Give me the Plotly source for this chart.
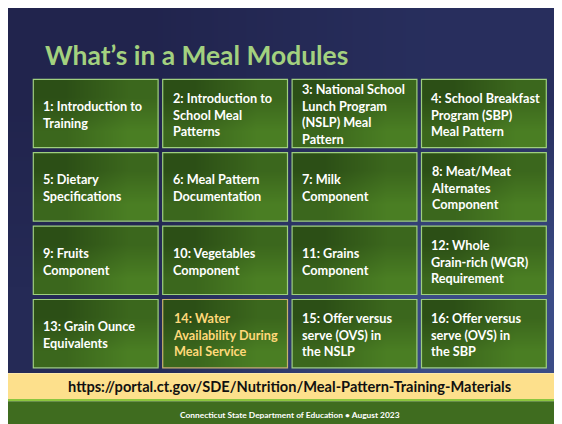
import plotly.graph_objects as go

# ---- content ----
title_text = "What’s in a Meal Modules"
module_labels = [
    "1: Introduction to<br>Training",
    "2: Introduction to<br>School Meal<br>Patterns",
    "3: National School<br>Lunch Program<br>(NSLP) Meal<br>Pattern",
    "4: School Breakfast<br>Program (SBP)<br>Meal Pattern",
    "5: Dietary<br>Specifications",
    "6: Meal Pattern<br>Documentation",
    "7: Milk<br>Component",
    "8: Meat/Meat<br>Alternates<br>Component",
    "9: Fruits<br>Component",
    "10: Vegetables<br>Component",
    "11: Grains<br>Component",
    "12: Whole<br>Grain-rich (WGR)<br>Requirement",
    "13: Grain Ounce<br>Equivalents",
    "14: Water<br>Availability During<br>Meal Service",
    "15: Offer versus<br>serve (OVS) in<br>the NSLP",
    "16: Offer versus<br>serve (OVS) in<br>the SBP",
]
highlighted = [False] * 13 + [True] + [False] * 2
url_text = "https://portal.ct.gov/SDE/Nutrition/Meal-Pattern-Training-Materials"
footer_text = "Connecticut State Department of Education • August 2023"

# ---- layout constants (page pixel coordinates; the page has an 8px body margin) ----
PAGE_W, PAGE_H = 562, 424
OFF = 8
W, H = PAGE_W - OFF, PAGE_H - OFF
FONT = "Lato"
col_x0 = [33.3 + c * 129.4 for c in range(4)]
row_y0 = [79.3 + r * 73.4 for r in range(4)]
box_w, box_h = 124.8, 68.4

fig = go.Figure()

# slide background gradient
fig.add_trace(go.Heatmap(
    x=[OFF, 290, PAGE_W], y=[OFF, 200, 373],
    z=[[0.0, 0.28], [0.15, 1.0]],
    zsmooth="best", showscale=False, hoverinfo="skip",
    colorscale=[[0, "#21244d"], [0.3, "#282f5e"], [1, "#3b4c86"]],
))

# module boxes
for i, label in enumerate(module_labels):
    r, c = divmod(i, 4)
    x0, y0 = col_x0[c], row_y0[r]
    x1, y1 = x0 + box_w, y0 + box_h
    fig.add_trace(go.Heatmap(
        x=[x0, x0 + box_w / 2, x1], y=[y0, y0 + box_h / 2, y1],
        z=[[0.0, 0.5], [0.5, 1.0]],
        zsmooth="best", showscale=False, hoverinfo="skip",
        colorscale=[[0, "#2c4f16"], [1, "#4a7e23"]],
    ))
    fig.add_shape(type="rect", x0=x0, x1=x1, y0=y0, y1=y1,
                  line=dict(color="#c8b46e" if highlighted[i] else "#9fcf7f", width=1.2),
                  fillcolor="rgba(0,0,0,0)", layer="above")
    fig.add_annotation(
        x=x0 + 7.8, y=(y0 + y1) / 2 + 0.8, text=label, showarrow=False,
        xanchor="left", yanchor="middle", align="left",
        font=dict(family=FONT, size=12.7, weight="bold",
                  color="#ffd97a" if highlighted[i] else "#ffffff"),
    )

# url band and footer
fig.add_shape(type="rect", x0=OFF, x1=PAGE_W, y0=373.3, y1=399, line_width=0,
              fillcolor="#fde08c", layer="above")
fig.add_shape(type="rect", x0=OFF, x1=PAGE_W, y0=399, y1=401.3, line_width=0,
              fillcolor="#8cc63f", layer="above")
fig.add_shape(type="rect", x0=OFF, x1=PAGE_W, y0=401.3, y1=PAGE_H, line_width=0,
              fillcolor="#3f6c1f", layer="above")

fig.add_annotation(x=43.3, y=55, text=title_text, showarrow=False,
                   xanchor="left", yanchor="middle",
                   font=dict(family=FONT, size=26.4, weight="bold", color="#a3d17f"))
fig.add_annotation(x=289.5, y=386.5, text=url_text, showarrow=False,
                   xanchor="center", yanchor="middle",
                   font=dict(family=FONT, size=14.6, weight="bold", color="#111111"))
fig.add_annotation(x=289.7, y=414.5, text=footer_text, showarrow=False,
                   xanchor="center", yanchor="middle",
                   font=dict(family=FONT, size=8.4, weight="bold", color="#ffffff"))

fig.update_xaxes(range=[OFF, PAGE_W], visible=False, fixedrange=True)
fig.update_yaxes(range=[PAGE_H, OFF], visible=False, fixedrange=True)
fig.update_layout(width=W, height=H, margin=dict(l=0, r=0, t=0, b=0),
                  paper_bgcolor="white", plot_bgcolor="white", showlegend=False)

fig.write_html("out.html", config={"displayModeBar": False})
